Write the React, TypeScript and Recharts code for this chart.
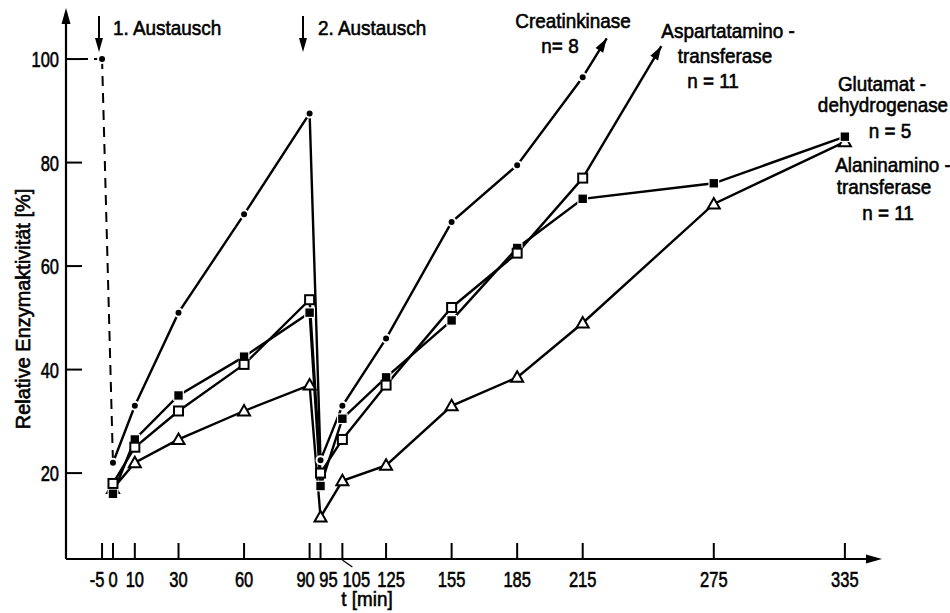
import React from "react";
import { LineChart, Line, XAxis, YAxis } from "recharts";

const FONT = '"Liberation Sans", Arial, sans-serif';

// time axis (min)
const xTicks = [-5, 0, 10, 30, 60, 90, 95, 105, 125, 155, 185, 215, 275, 335];
const yTicks = [20, 40, 60, 80, 100];

const mainTimes = [0, 10, 30, 60, 90, 95, 105, 125, 155, 185, 215];
const longTimes = [0, 10, 30, 60, 90, 95, 105, 125, 155, 185, 215, 275, 335];

// Creatinkinase n=8
const ckValues = [22, 33, 51, 70, 89.5, 22.5, 33, 46, 68.5, 79.5, 96.5];
const ckStart = [
  { t: -5, v: 100 },
  { t: 0, v: 22 },
];
const ckArrow = [
  { t: 215, v: 96.5 },
  { t: 226, v: 104 },
];
// Aspartataminotransferase n=11
const asatValues = [18, 25, 32, 41, 53.5, 20, 26.5, 37, 52, 62.5, 77];
const asatArrow = [
  { t: 215, v: 77 },
  { t: 251, v: 102.5 },
];
// Glutamatdehydrogenase n=5
const gldhValues = [16, 26.5, 35, 42.5, 51, 17.5, 30.5, 38.5, 49.5, 63.5, 73, 76, 85];
// Alaninaminotransferase n=11
const alatValues = [17, 22, 26.5, 32, 37, 11.5, 18.5, 21.5, 33, 38.5, 49, 72, 84];

const X_DOMAIN: [number, number] = [-21.5, 349.7];
const Y_DOMAIN: [number, number] = [3.4, 108.9];

const W = 950;
const H = 613;
const M = { top: 13, right: 73, bottom: 0, left: 0 };
const Y_W = 66;
const X_H = 54;
const pxPerT = (W - M.right - Y_W) / (X_DOMAIN[1] - X_DOMAIN[0]);
const pxPerV = (H - M.top - X_H) / (Y_DOMAIN[1] - Y_DOMAIN[0]);

const zip = (ts: number[], vs: number[]) => ts.map((t, i) => ({ t, v: vs[i] }));

const ckData = zip(mainTimes, ckValues);
const asatData = zip(mainTimes, asatValues);
const gldhData = zip(longTimes, gldhValues);
const alatData = zip(longTimes, alatValues);
const dashRef = [
  { t: X_DOMAIN[0], v: 100 },
  { t: -5, v: 100 },
];

const labelShift: Record<number, number> = { [-5]: -5, 90: -4, 95: 8, 105: 14, 125: 5 };

// condensed text: regular font squeezed horizontally, slightly emboldened
function CText({
  x,
  y,
  children,
  anchor = "middle",
  size = 21,
  sx = 0.9,
  rotate = 0,
}: {
  x: number;
  y: number;
  children: React.ReactNode;
  anchor?: "start" | "middle" | "end";
  size?: number;
  sx?: number;
  rotate?: number;
}) {
  return (
    <text
      transform={`translate(${x},${y}) rotate(${rotate}) scale(${sx},1)`}
      textAnchor={anchor}
      fontFamily={FONT}
      fontSize={size}
      fill="#000"
      stroke="#000"
      strokeWidth={0.6}
    >
      {children}
    </text>
  );
}

function XTick(props: any) {
  const { x, y, payload } = props;
  const val = payload.value;
  const dx = labelShift[val] || 0;
  return (
    <g>
      <line x1={x} y1={y} x2={x} y2={y - 16} stroke="#000" strokeWidth={2} />
      {val === 105 && <line x1={x} y1={y + 1} x2={x + 10} y2={y + 8} stroke="#000" strokeWidth={1.3} />}
      <CText x={x + dx} y={y + 28} size={22} sx={0.75}>
        {val}
      </CText>
    </g>
  );
}

function YTick(props: any) {
  const { x, y, payload } = props;
  return (
    <g>
      <line x1={x} y1={y} x2={x + 16} y2={y} stroke="#000" strokeWidth={2} />
      <CText x={x - 7} y={y + 8} anchor="end" size={22} sx={0.75}>
        {payload.value}
      </CText>
    </g>
  );
}

const Dot = (p: any) => <circle key={p.index} cx={p.cx} cy={p.cy} r={4} fill="#000" stroke="#fff" strokeWidth={2} />;
const OpenSq = (p: any) => (
  <rect key={p.index} x={p.cx - 4.5} y={p.cy - 4.5} width={9} height={9} fill="#fff" stroke="#000" strokeWidth={2} />
);
const FillSq = (p: any) => (
  <rect key={p.index} x={p.cx - 4.8} y={p.cy - 4.8} width={9.6} height={9.6} fill="#000" stroke="#fff" strokeWidth={1.2} />
);
const Tri = (p: any) => (
  <polygon
    key={p.index}
    points={`${p.cx},${p.cy - 6} ${p.cx - 6},${p.cy + 4.5} ${p.cx + 6},${p.cy + 4.5}`}
    fill="#fff"
    stroke="#000"
    strokeWidth={2}
  />
);

function makeArrowDot(data: { t: number; v: number }[]) {
  const a = data[0];
  const b = data[1];
  const ang = Math.atan2(-(b.v - a.v) * pxPerV, (b.t - a.t) * pxPerT);
  return (p: any) => {
    if (p.index !== 1) return <g key={p.index} />;
    const L = 14;
    const hw = 4.5;
    const bx = p.cx - L * Math.cos(ang);
    const by = p.cy - L * Math.sin(ang);
    const nx = -Math.sin(ang) * hw;
    const ny = Math.cos(ang) * hw;
    return (
      <polygon
        key={p.index}
        points={`${p.cx},${p.cy} ${bx + nx},${by + ny} ${bx - nx},${by - ny}`}
        fill="#000"
      />
    );
  };
}

export default function App() {
  const line = { type: "linear" as const, dataKey: "v", stroke: "#000", strokeWidth: 2.4, isAnimationActive: false };
  return (
    <div style={{ position: "absolute", left: 0, top: 0, width: W, height: H, background: "#fff" }}>
      <LineChart width={W} height={H} margin={M}>
        <XAxis
          type="number"
          dataKey="t"
          domain={X_DOMAIN}
          ticks={xTicks}
          interval={0}
          allowDataOverflow
          height={X_H}
          tickSize={0}
          tickMargin={0}
          tickLine={false}
          tick={<XTick />}
          axisLine={{ stroke: "#000", strokeWidth: 2.2 }}
        />
        <YAxis
          type="number"
          domain={Y_DOMAIN}
          ticks={yTicks}
          interval={0}
          allowDataOverflow
          width={Y_W}
          tickSize={0}
          tickMargin={0}
          tickLine={false}
          tick={<YTick />}
          axisLine={{ stroke: "#000", strokeWidth: 2.2 }}
        />
        <Line {...line} data={dashRef} strokeWidth={2} strokeDasharray="8 6" dot={false} />
        <Line {...line} data={ckStart} strokeWidth={2} strokeDasharray="10 7" dot={false} />
        <Line {...line} data={ckArrow} dot={makeArrowDot(ckArrow)} />
        <Line {...line} data={asatArrow} dot={makeArrowDot(asatArrow)} />
        <Line {...line} data={alatData} dot={Tri} />
        <Line {...line} data={gldhData} dot={FillSq} />
        <Line {...line} data={asatData} dot={OpenSq} />
        <Line {...line} data={ckData} dot={Dot} />
        <Line {...line} data={[ckStart[0]]} dot={Dot} />
      </LineChart>
      <svg width={W} height={H} style={{ position: "absolute", left: 0, top: 0, pointerEvents: "none" }}>
        {/* axis arrowheads */}
        <polygon points="66,8 61.5,24 70.5,24" fill="#000" />
        <polygon points="882,559 866,554.5 866,563.5" fill="#000" />
        {/* Austausch arrows */}
        <line x1={99} y1={16} x2={99} y2={40} stroke="#000" strokeWidth={2} />
        <polygon points="99,52 95,38 103,38" fill="#000" />
        <line x1={303} y1={16} x2={303} y2={40} stroke="#000" strokeWidth={2} />
        <polygon points="303,52 299,38 307,38" fill="#000" />
        <CText x={113} y={35} anchor="start">1. Austausch</CText>
        <CText x={318} y={35} anchor="start">2. Austausch</CText>
        <CText x={573} y={28}>Creatinkinase</CText>
        <CText x={560} y={53}>n= 8</CText>
        <CText x={728} y={38}>Aspartatamino -</CText>
        <CText x={725} y={63}>transferase</CText>
        <CText x={713} y={88}>n = 11</CText>
        <CText x={882} y={91}>Glutamat -</CText>
        <CText x={883} y={112}>dehydrogenase</CText>
        <CText x={890} y={138}>n = 5</CText>
        <CText x={893} y={172}>Alaninamino -</CText>
        <CText x={884} y={194}>transferase</CText>
        <CText x={888} y={220}>n = 11</CText>
        <CText x={367} y={606}>t [min]</CText>
        <CText x={30} y={309} rotate={-90} sx={0.95}>
          Relative Enzymaktivität [%]
        </CText>
      </svg>
    </div>
  );
}
